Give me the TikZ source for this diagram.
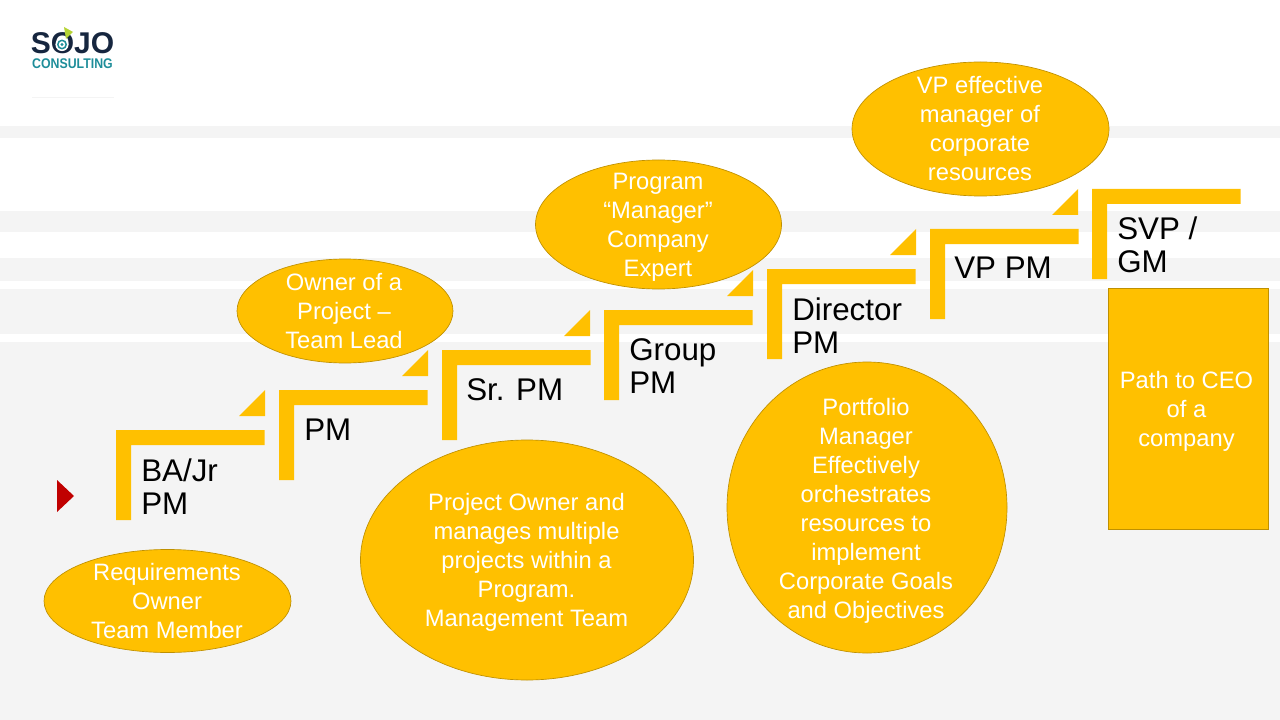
\documentclass[tikz,border=0pt]{standalone}
\usepackage{fontspec}
\setmainfont{Liberation Sans}
\usetikzlibrary{shapes.geometric}
\definecolor{amber}{HTML}{FFC000}
\definecolor{amberline}{HTML}{BF9000}
\definecolor{band}{HTML}{F4F4F4}
\definecolor{darkred}{HTML}{C00000}
\definecolor{logonavy}{HTML}{16263F}
\definecolor{logoteal}{HTML}{1F8E9A}
\definecolor{logolime}{HTML}{B5D334}
\tikzset{
  x=0.75pt,y=-0.75pt,
  bubble/.style={ellipse,draw=amberline,line width=0.5pt,fill=amber,inner sep=0pt,outer sep=0pt},
  bubbletext/.style={inner sep=0pt,text=white,font=\fontsize{17.8}{21.75}\selectfont,align=center},
  steplabel/.style={anchor=north west,inner sep=0pt,text=black,font=\fontsize{23.5}{24.7}\selectfont,align=left},
}
\newcommand{\stair}[2]{%
  \fill[amber] (#1,#2) -- ++(148.5,0) -- ++(0,15) -- ++(-133.5,0) -- ++(0,75) -- ++(-15,0) -- cycle;}
\newcommand{\tick}[2]{%
  \fill[amber] (#1,#2) -- ++(0,-26) -- ++(-26,26) -- cycle;}
\begin{document}
\begin{tikzpicture}
\useasboundingbox (0,0) rectangle (1280,720);
\fill[white] (0,0) rectangle (1280,720);
\fill[band] (0,126) rectangle (1280,138);
\fill[band] (0,211) rectangle (1280,232);
\fill[band] (0,258) rectangle (1280,281);
\fill[band] (0,289) rectangle (1280,334);
\fill[band] (0,342) rectangle (1280,720);
% logo
\node[anchor=west,inner sep=0pt,text=logonavy,font=\fontsize{22.5}{22.5}\selectfont\bfseries] (logoa) at (30.5,43.5) {SOJO};
\fill[white] (62,44.5) circle (6.6);
\draw[logoteal,line width=1.1pt] (62,44.5) circle (4.2);
\fill[logoteal] (62,44.5) circle (1.6);
\fill[logolime] (64,27) -- (73,32) -- (66,39) -- cycle;
\node[anchor=west,inner sep=0pt,xscale=0.88,text=logoteal,font=\fontsize{10.5}{10.5}\selectfont\bfseries] (logob) at (32,64) {CONSULTING};
\draw[band,line width=0.5pt] (32,97.5) -- (114,97.5);
% stairs
\stair{116}{430}\stair{279}{390}\stair{442}{350}\stair{604}{310}\stair{767}{269}\stair{930}{229}\stair{1092}{189}
\tick{265}{416}\tick{428}{376}\tick{590}{336}\tick{753}{296}\tick{916}{255}\tick{1078}{215}
% labels
\node[steplabel] (l1) at (141,458.5) {BA/Jr\\PM};
\node[steplabel] (l2) at (304,419) {PM};
\node[steplabel] (l3) at (466,378) {Sr. PM};
\node[steplabel] (l4) at (629,338.5) {Group\\PM};
\node[steplabel] (l5) at (792,297.5) {Director\\PM};
\node[steplabel] (l6) at (954,257) {VP PM};
\node[steplabel] (l7) at (1117,217) {SVP /\\GM};
% marker
\fill[darkred] (57,480) -- (74,496) -- (57,512) -- cycle;
% bubbles
\node[bubble,minimum width=247*0.75pt,minimum height=103*0.75pt] (b1) at (167.5,601) {};
\node[bubbletext] (t1) at (167,601) {Requirements\\Owner\\Team Member};
\node[bubble,minimum width=216*0.75pt,minimum height=104*0.75pt] (b2) at (345,311) {};
\node[bubbletext] (t2) at (344,311) {Owner of a\\Project --\\Team Lead};
\node[bubble,minimum width=333*0.75pt,minimum height=240*0.75pt] (b3) at (527,560) {};
\node[bubbletext] (t3) at (526.5,562) {Project Owner and\\manages multiple\\projects within a\\Program.\\Management Team};
\node[bubble,minimum width=246*0.75pt,minimum height=129*0.75pt] (b4) at (658.5,224.5) {};
\node[bubbletext] (t4) at (658,227.5) {Program\\“Manager”\\Company\\Expert};
\node[bubble,minimum width=280*0.75pt,minimum height=291*0.75pt] (b5) at (867,507.5) {};
\node[bubbletext] (t5) at (866,510.5) {Portfolio\\Manager\\Effectively\\orchestrates\\resources to\\implement\\Corporate Goals\\and Objectives};
\node[bubble,minimum width=257*0.75pt,minimum height=134*0.75pt] (b6) at (980.5,129) {};
\node[bubbletext] (t6) at (980,128.5) {VP effective\\manager of\\corporate\\resources};
\node[draw=amberline,line width=0.5pt,fill=amber,inner sep=0pt,minimum width=160*0.75pt,minimum height=241*0.75pt] (b7) at (1188,409) {};
\node[bubbletext] (t7) at (1186.5,411) {Path to CEO\\of a\\company};
\end{tikzpicture}
\end{document}
